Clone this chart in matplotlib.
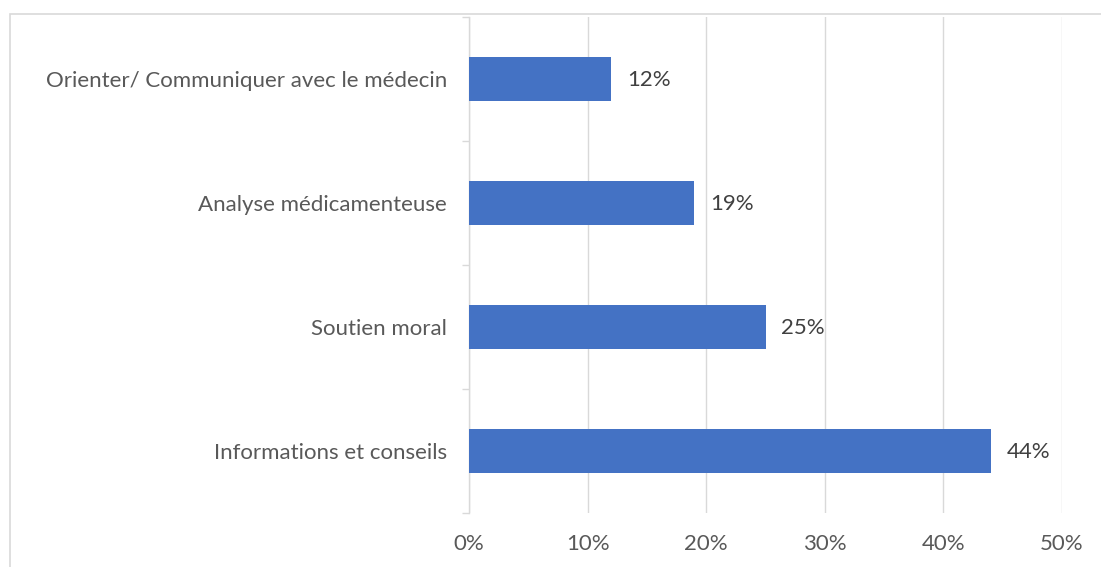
import matplotlib
matplotlib.use("Agg")
import matplotlib.pyplot as plt
from matplotlib.patches import Rectangle
from matplotlib.ticker import FixedLocator

categories = ["Informations et conseils", "Soutien moral", "Analyse médicamenteuse",
              "Orienter/ Communiquer avec le médecin"]
values = [44, 25, 19, 12]
xticks = [0, 10, 20, 30, 40, 50]
xtick_labels = ["0%", "10%", "20%", "30%", "40%", "50%"]

plt.rcParams['font.family'] = ['Lato', 'DejaVu Sans']
text_color = "#595959"
grid_color = "#D9D9D9"
bar_color = "#4472C4"
fs = 16

fig = plt.figure(figsize=(11.01, 5.67), dpi=100)
ax = fig.add_axes([469/1101, 1-513/567, (1062-469)/1101, (513-17)/567])

y = list(range(len(categories)))
ax.barh(y, values, height=0.36, color=bar_color, zorder=3)
for yi, v in zip(y, values):
    ax.annotate(f"{v}%", (v, yi), xytext=(11.5, -1), textcoords="offset points",
                ha="left", va="center", fontsize=fs, color="#404040")

ax.set_xlim(0, 50)
ax.set_ylim(-0.5, len(categories) - 0.5)
ax.set_xticks(xticks)
ax.set_xticklabels(xtick_labels)
ax.set_yticks(y)
ax.set_yticklabels(categories)
ax.yaxis.set_minor_locator(FixedLocator([i - 0.5 for i in range(len(categories) + 1)]))
ax.tick_params(axis="y", which="major", length=0, pad=16, labelsize=fs, labelcolor=text_color)
ax.tick_params(axis="y", which="minor", length=5, color=grid_color, width=1)
ax.tick_params(axis="x", length=0, pad=15, labelsize=fs, labelcolor=text_color)
ax.grid(axis="x", color=grid_color, linewidth=1, zorder=0)
for s in ["top", "right", "bottom"]:
    ax.spines[s].set_visible(False)
ax.spines["left"].set_color(grid_color)
ax.spines["left"].set_linewidth(1)

fig.patches.append(Rectangle((10/1101, -0.1), 1.2, 1 - 14/567 + 0.1, transform=fig.transFigure,
                             fill=False, edgecolor=grid_color, linewidth=1.2))

fig.savefig("out.png", dpi=100)
